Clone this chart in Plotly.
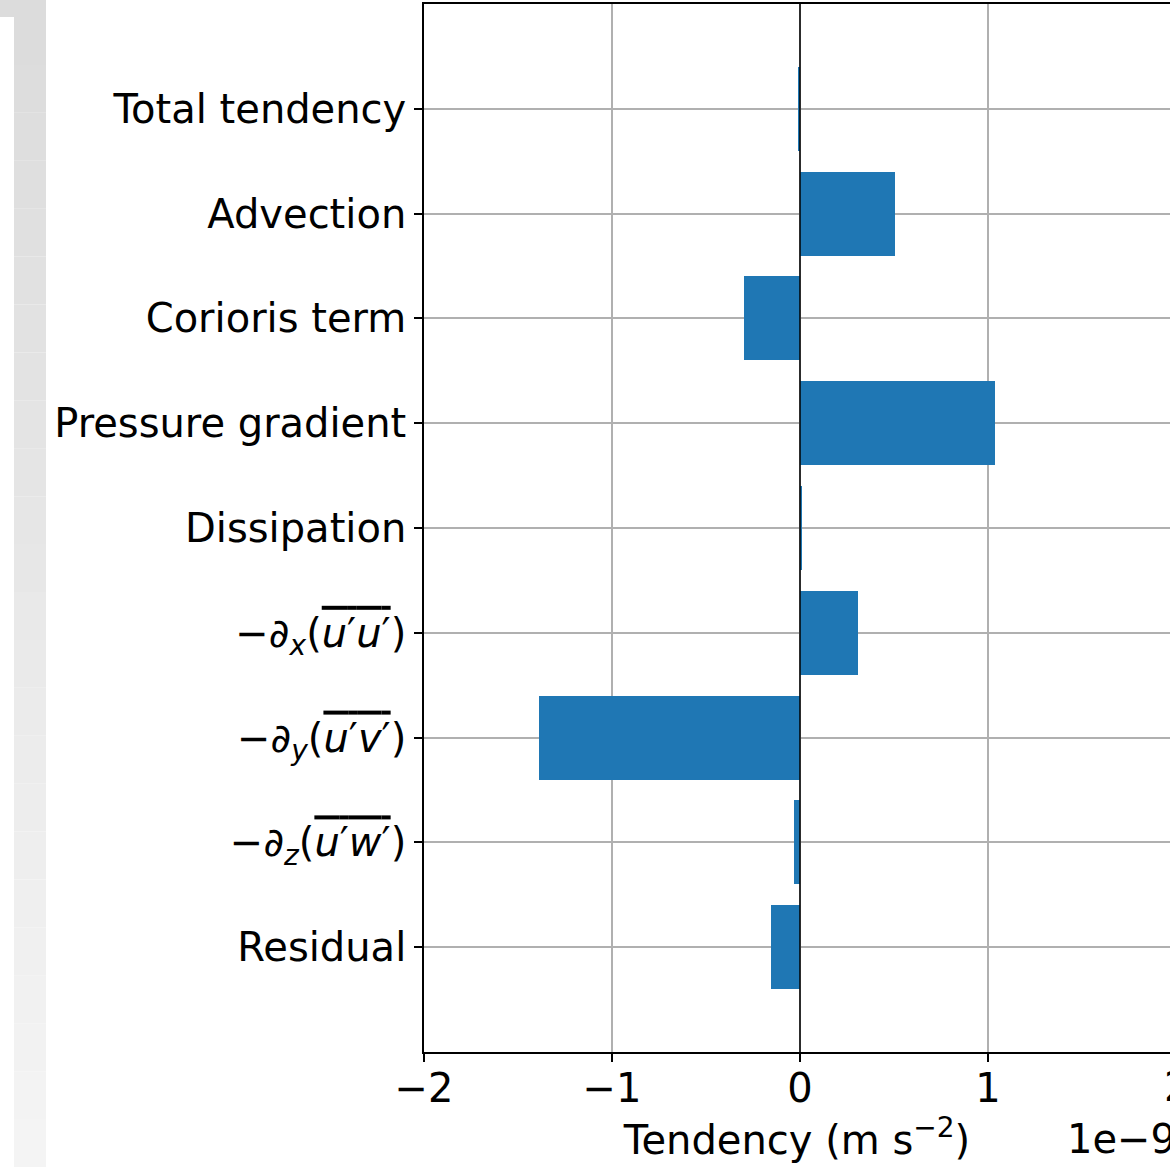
import plotly.graph_objects as go

categories = [
    "Total tendency",
    "Advection",
    "Corioris term",
    "Pressure gradient",
    "Dissipation",
    "−∂<sub><i>x</i></sub>(<span style='text-decoration:overline'><i>u</i>′<i>u</i>′</span>)",
    "−∂<sub><i>y</i></sub>(<span style='text-decoration:overline'><i>u</i>′<i>v</i>′</span>)",
    "−∂<sub><i>z</i></sub>(<span style='text-decoration:overline'><i>u</i>′<i>w</i>′</span>)",
    "Residual",
]
values_e9 = [-0.012, 0.504, -0.296, 1.039, 0.007, 0.309, -1.388, -0.032, -0.154]
x_ticks = [-2, -1, 0, 1]
x_tick_labels = ["−2", "−1", "0", "1"]

W, H = 1170, 1167
ML, MR, MT, MB = 424, 0, 4, 115
PW, PH = W - ML - MR, H - MT - MB
FONT = "DejaVu Sans"
FS = 40


def px(xp):
    return (xp - ML) / PW


def py(yp):
    return 1 - (yp - MT) / PH


fig = go.Figure()
fig.add_trace(go.Bar(
    x=values_e9, y=list(range(len(categories))), orientation="h",
    width=0.8, marker=dict(color="#1f77b4", line=dict(width=0)),
))

shapes = []
# zero line
shapes.append(dict(type="line", xref="x", yref="paper", x0=0, x1=0, y0=0, y1=1,
                   line=dict(color="black", width=1.5), layer="above"))
# left gray strip (screenshot artefact)
shapes.append(dict(type="rect", xref="paper", yref="paper", x0=px(0), x1=px(46),
                   y0=py(17), y1=py(0), fillcolor="#dcdcdc", line=dict(width=0), layer="below"))
steps = 24
for i in range(steps):
    y0p = 17 + (H - 17) * i / steps
    y1p = 17 + (H - 17) * (i + 1) / steps
    t = i / (steps - 1)
    c = int(round(0xdc + (0xf4 - 0xdc) * t))
    col = f"rgb({c},{c},{c})"
    shapes.append(dict(type="rect", xref="paper", yref="paper", x0=px(14), x1=px(46),
                       y0=py(y1p), y1=py(y0p), fillcolor=col, line=dict(width=0), layer="below"))

annotations = [
    dict(text="2", xref="paper", yref="paper", x=px(1176), y=py(1062), xanchor="center",
         yanchor="top", showarrow=False, font=dict(family=FONT, size=FS, color="black")),
    dict(text="1e−9", xref="paper", yref="paper", x=px(1178), y=py(1114), xanchor="right",
         yanchor="top", showarrow=False, font=dict(family=FONT, size=FS, color="black")),
]

fig.update_layout(
    width=W, height=H,
    margin=dict(l=ML, r=MR, t=MT, b=MB, pad=0),
    paper_bgcolor="white", plot_bgcolor="white",
    showlegend=False,
    font=dict(family=FONT, size=FS, color="black"),
    shapes=shapes, annotations=annotations,
    bargap=0,
)
fig.update_xaxes(
    range=[-2, (W - 800) / 188.0], tickvals=x_ticks, ticktext=x_tick_labels,
    showgrid=True, gridcolor="#b0b0b0", gridwidth=1.5, zeroline=False,
    showline=True, linecolor="black", linewidth=1.5, mirror=True,
    ticks="outside", ticklen=8, tickwidth=1.5, tickcolor="black",
    ticklabelstandoff=-8,
    tickfont=dict(family=FONT, size=FS, color="black"),
    title=dict(text="Tendency (m s<sup>−2</sup>)", standoff=9,
               font=dict(family=FONT, size=FS, color="black")),
)
fig.update_yaxes(
    range=[len(categories), -1], tickvals=list(range(len(categories))), ticktext=categories,
    showgrid=True, gridcolor="#b0b0b0", gridwidth=1.5, zeroline=False,
    showline=True, linecolor="black", linewidth=1.5, mirror=False,
    ticks="outside", ticklen=8, tickwidth=1.5, tickcolor="black",
    tickfont=dict(family=FONT, size=FS, color="black"),
)

fig.write_html("out.html")
